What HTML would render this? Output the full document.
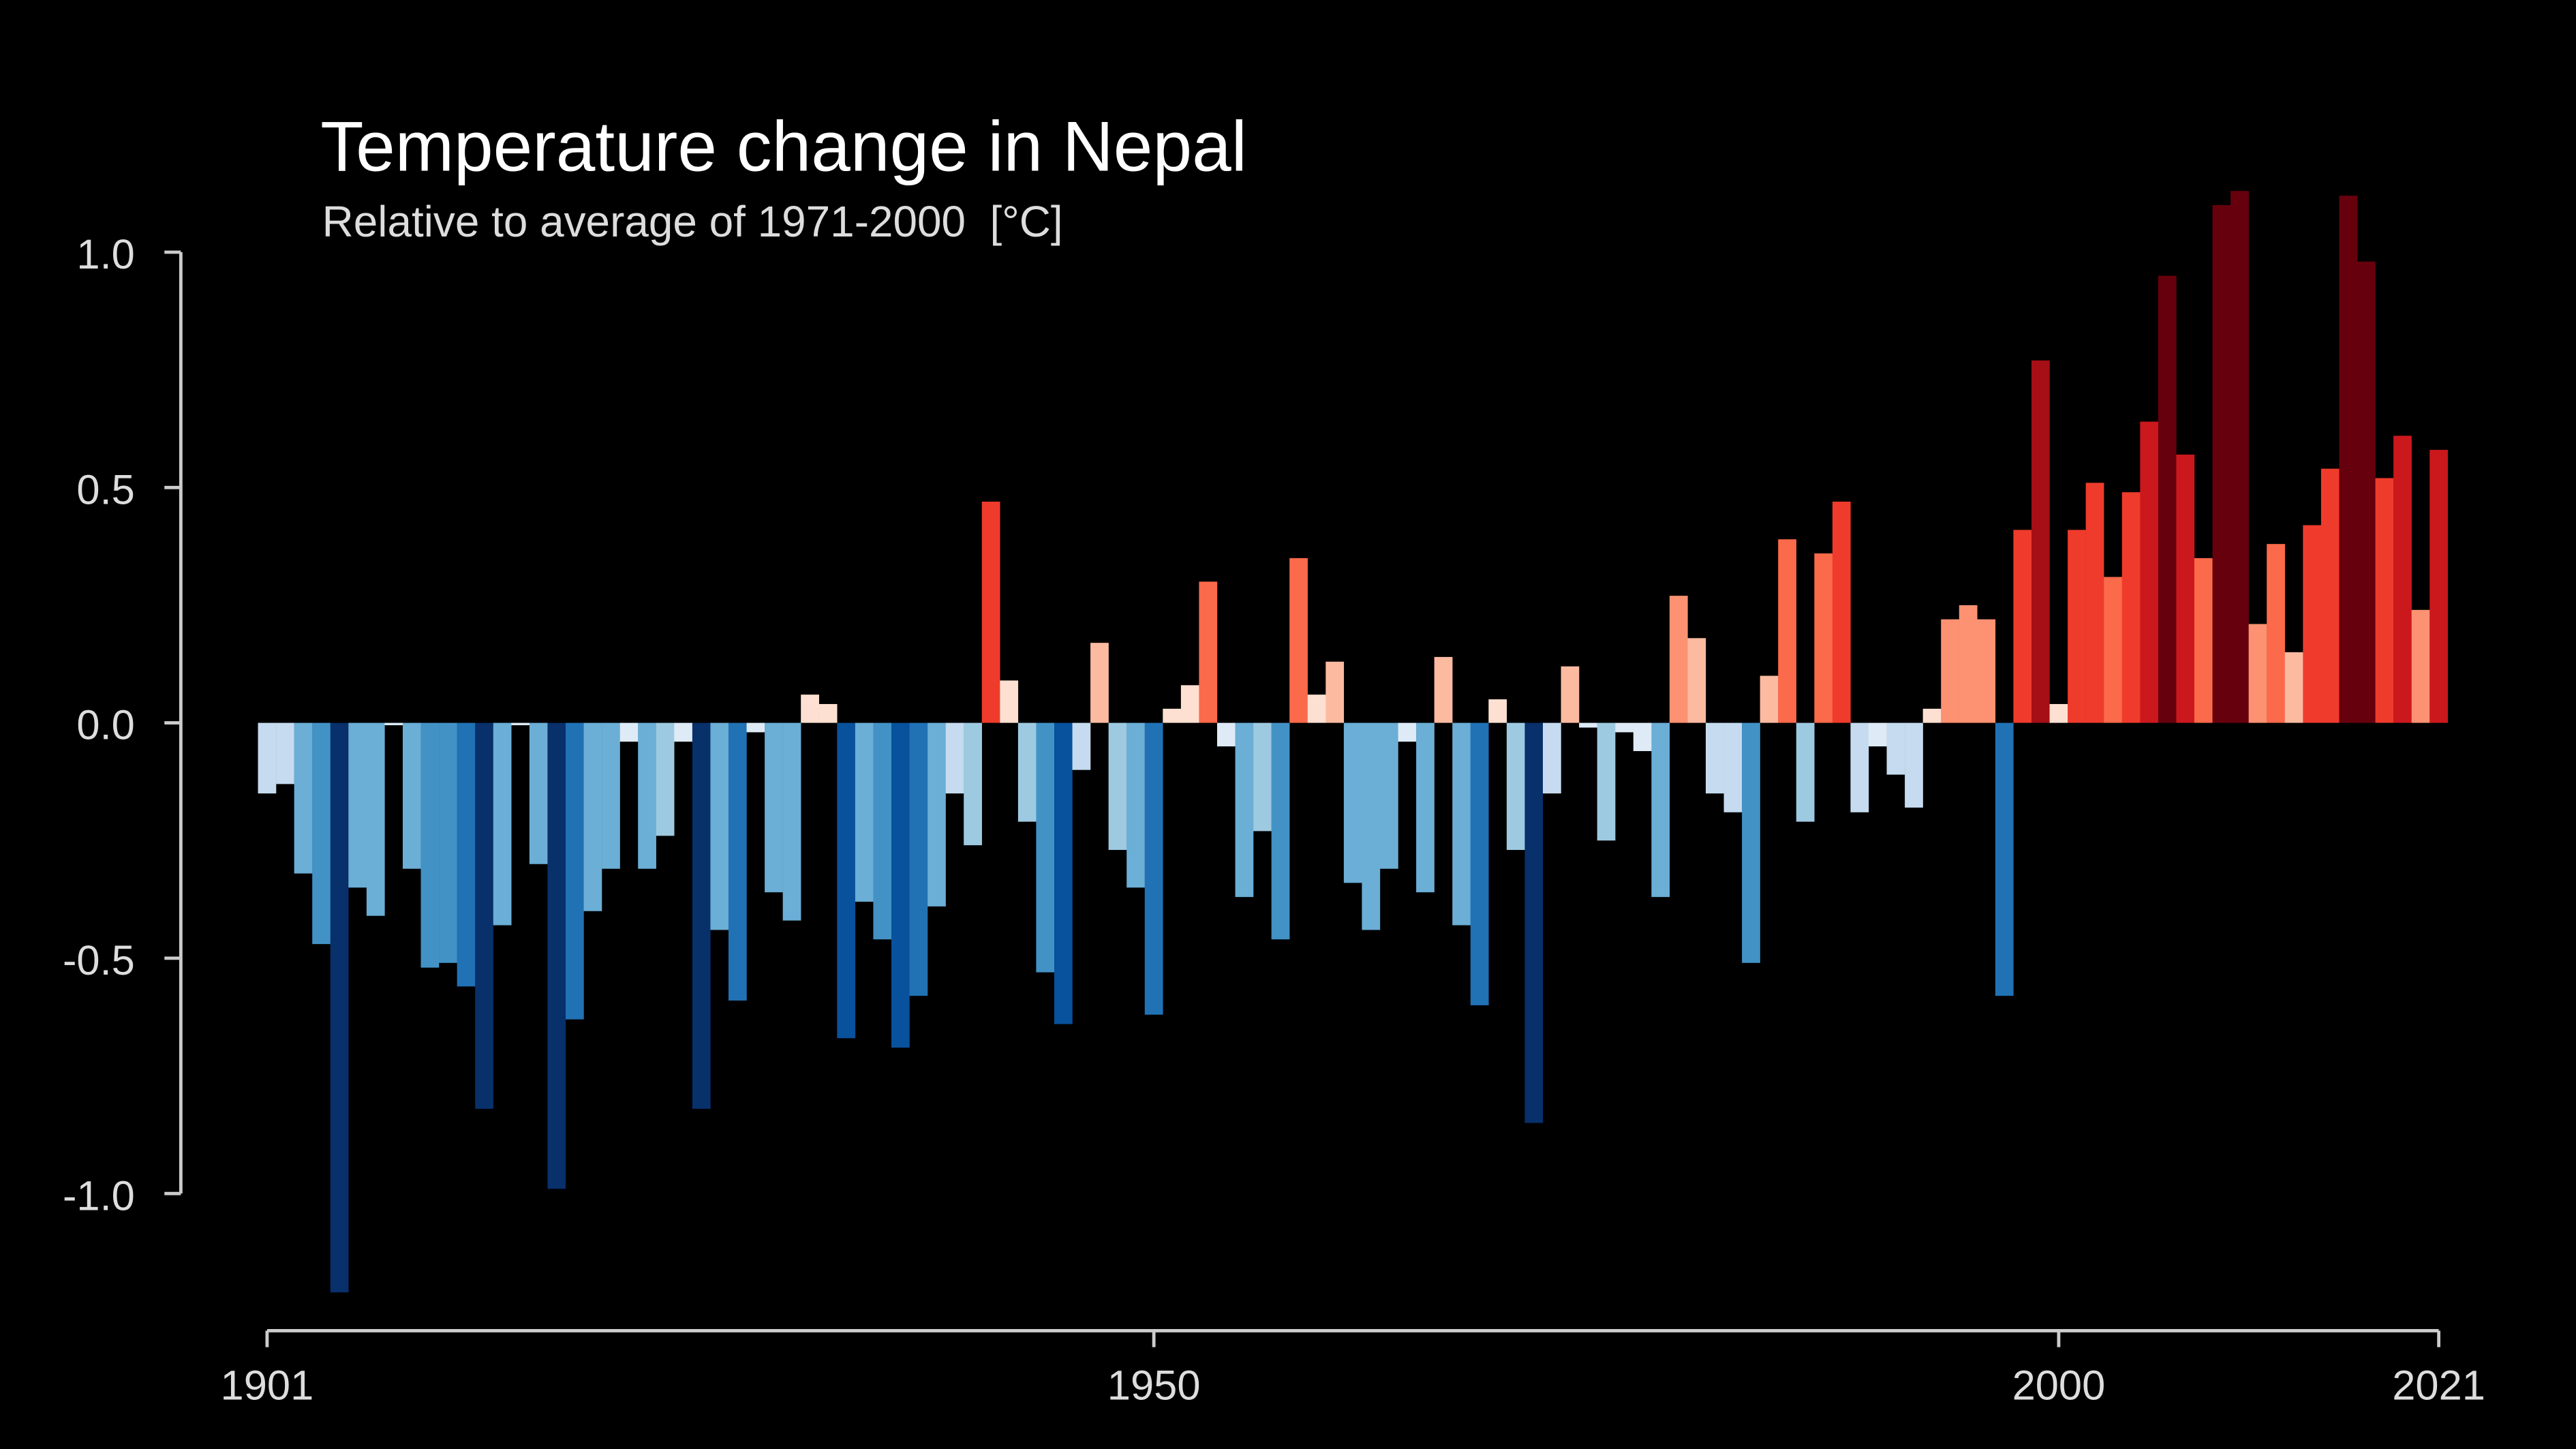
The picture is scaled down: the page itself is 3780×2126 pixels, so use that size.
<!DOCTYPE html>
<html><head><meta charset="utf-8"><style>
html,body{margin:0;padding:0;background:#000;}
svg{display:block;}
text{font-family:"Liberation Sans",sans-serif;}
</style></head><body>
<svg id="chart" width="3780" height="2126" viewBox="0 0 1568 882" xmlns="http://www.w3.org/2000/svg">
<rect width="1568" height="882" fill="#000"/>
<text x="195" y="104" fill="#fff" font-size="43">Temperature change in Nepal</text>
<text x="196" y="144" fill="#ddd" font-size="26.5">Relative to average of 1971-2000 &#160;[°C]</text>
<g id="bars"></g>
<g id="yaxis"></g>
<g id="xaxis"></g>
</svg>
<script>
const startYear = 1901;
const anomalies = [-0.15,-0.13,-0.32,-0.47,-1.21,-0.35,-0.41,-0.005,-0.31,-0.52,
-0.51,-0.56,-0.82,-0.43,-0.005,-0.30,-0.99,-0.63,-0.40,-0.31,
-0.04,-0.31,-0.24,-0.04,-0.82,-0.44,-0.59,-0.02,-0.36,-0.42,
0.06,0.04,-0.67,-0.38,-0.46,-0.69,-0.58,-0.39,-0.15,-0.26,
0.47,0.09,-0.21,-0.53,-0.64,-0.10,0.17,-0.27,-0.35,-0.62,
0.03,0.08,0.30,-0.05,-0.37,-0.23,-0.46,0.35,0.06,0.13,
-0.34,-0.44,-0.31,-0.04,-0.36,0.14,-0.43,-0.60,0.05,-0.27,
-0.85,-0.15,0.12,-0.01,-0.25,-0.02,-0.06,-0.37,0.27,0.18,
-0.15,-0.19,-0.51,0.10,0.39,-0.21,0.36,0.47,-0.19,-0.05,
-0.11,-0.18,0.03,0.22,0.25,0.22,-0.58,0.41,0.77,0.04,
0.41,0.51,0.31,0.49,0.64,0.95,0.57,0.35,1.10,1.13,
0.21,0.38,0.15,0.42,0.54,1.12,0.98,0.52,0.61,0.24,0.58];
const yTicks = [1.0,0.5,0.0,-0.5,-1.0];
const yTickLabels = ["1.0","0.5","0.0","-0.5","-1.0"];
const xTicks = [1901,1950,2000,2021];

const NS="http://www.w3.org/2000/svg";
const y = v => 440 - v*286.5;
const x = yr => 162.5 + (yr-1901)*11.017;
const bw = 11.1;
function color(v){
  const a=Math.abs(v);
  if(v<0){
    if(a<0.1) return "#deebf7"; if(a<0.2) return "#c6dbef"; if(a<0.3) return "#9ecae1";
    if(a<0.45) return "#6baed6"; if(a<0.56) return "#4292c6"; if(a<0.64) return "#2171b5";
    if(a<0.75) return "#08519c"; return "#08306b";
  } else {
    if(a<0.1) return "#fee0d2"; if(a<0.2) return "#fcbba1"; if(a<0.3) return "#fc9272";
    if(a<0.4) return "#fb6a4a"; if(a<0.56) return "#ef3b2c"; if(a<0.7) return "#cb181d";
    if(a<0.9) return "#a50f15"; return "#67000d";
  }
}
const bars=document.getElementById("bars");
anomalies.forEach((v,i)=>{
  const yr=startYear+i;
  const r=document.createElementNS(NS,"rect");
  
  
  r.setAttribute("x",x(yr)-bw/2);
  r.setAttribute("width",bw);
  r.setAttribute("y",Math.min(y(v),y(0)));
  r.setAttribute("height",Math.max(Math.abs(y(v)-y(0)),0.3));
  r.setAttribute("fill",color(v));
  bars.appendChild(r);
});
const ya=document.getElementById("yaxis");
let l=document.createElementNS(NS,"line");


l.setAttribute("x1",110);l.setAttribute("x2",110);l.setAttribute("y1",y(1));l.setAttribute("y2",y(-1));
l.setAttribute("stroke","#ccc");l.setAttribute("stroke-width",2);ya.appendChild(l);
yTicks.forEach((t,i)=>{
  const tk=document.createElementNS(NS,"line");
  
  
  tk.setAttribute("x1",100);tk.setAttribute("x2",110);tk.setAttribute("y1",y(t));tk.setAttribute("y2",y(t));
  tk.setAttribute("stroke","#ccc");tk.setAttribute("stroke-width",2);ya.appendChild(tk);
  const tx=document.createElementNS(NS,"text");
  
  
  tx.setAttribute("x",82);tx.setAttribute("y",y(t)+10);tx.setAttribute("text-anchor","end");
  tx.setAttribute("fill","#ddd");tx.setAttribute("font-size","25.5");tx.textContent=yTickLabels[i];ya.appendChild(tx);
});
const xa=document.getElementById("xaxis");
l=document.createElementNS(NS,"line");


l.setAttribute("x1",x(1901));l.setAttribute("x2",x(2021));l.setAttribute("y1",810);l.setAttribute("y2",810);
l.setAttribute("stroke","#ccc");l.setAttribute("stroke-width",2);xa.appendChild(l);
xTicks.forEach(t=>{
  const tk=document.createElementNS(NS,"line");
  
  
  tk.setAttribute("x1",x(t));tk.setAttribute("x2",x(t));tk.setAttribute("y1",810);tk.setAttribute("y2",820);
  tk.setAttribute("stroke","#ccc");tk.setAttribute("stroke-width",2);xa.appendChild(tk);
  const tx=document.createElementNS(NS,"text");
  
  
  tx.setAttribute("x",x(t));tx.setAttribute("y",852);tx.setAttribute("text-anchor","middle");
  tx.setAttribute("fill","#ddd");tx.setAttribute("font-size","25.5");tx.textContent=t;xa.appendChild(tx);
});
</script>
</body></html>
